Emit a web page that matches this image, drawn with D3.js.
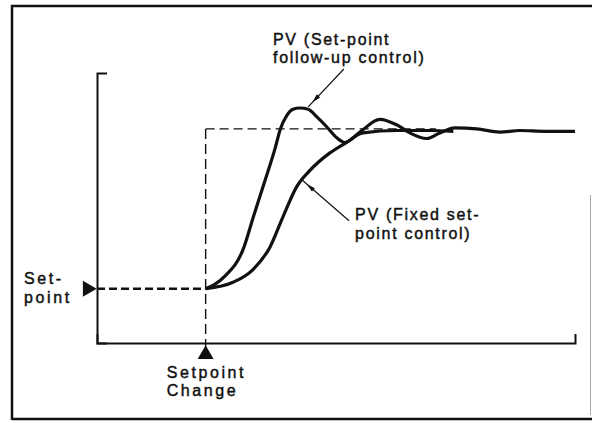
<!DOCTYPE html>
<html lang="en">
<head>
<meta charset="utf-8">
<title>Setpoint change response</title>
<style>
  body { margin: 0; background: #fff; }
  svg { display: block; }
  text { font-family: "Liberation Sans", Arial, sans-serif; font-size: 16px; fill: #111; stroke: #111; stroke-width: 0.45px; }
  .lbl { letter-spacing: 2.6px; }
  .note { letter-spacing: 1.7px; }
</style>
</head>
<body>
<svg width="592" height="423"></svg>
<script src="https://cdn.jsdelivr.net/npm/d3@7"></script>
<script>
// time runs 0..110, setpoint steps from 0 to 1 at t = 25
var changeT = 25,
    endT = 110,
    oldSP = 0,
    newSP = 1,
    spDashEnd = 78;

// PV, set-point follow-up control (overshoot + ringing)
var followT = [25, 27, 29.5, 33.6, 36.1, 38.7, 41.0, 42.2, 43.7, 45.1, 46.7, 48.6, 50.6, 52.9, 55.2, 57.1, 60.5, 65.1, 69.0, 72.0, 75.9, 78.9, 82.4, 87.4, 92.7, 97.3, 103, 110];
var followV = [0, 0.025, 0.08, 0.244, 0.46, 0.68, 0.88, 1.0, 1.085, 1.123, 1.131, 1.123, 1.075, 1.012, 0.944, 0.915, 0.98, 1.06, 1.025, 0.975, 0.94, 0.975, 1.006, 1.0, 0.98, 0.99, 0.985, 0.985];

// PV, fixed set-point control (slow, no overshoot)
var fixedT = [25, 31.3, 35.9, 39.8, 42.8, 46.0, 49.0, 53.6, 57.1, 61.2, 69.0, 76.6, 82];
var fixedV = [0, 0.04, 0.12, 0.26, 0.45, 0.64, 0.74, 0.85, 0.91, 0.975, 0.99, 0.99, 0.985];

var followText = ["PV (Set-point", "follow-up control)"];
var fixedText = ["PV (Fixed set-", "point control)"];
var spText = ["Set-", "point"];
var changeText = ["Setpoint", "Change"];

var svg = d3.select("svg");

var x = d3.scaleLinear().domain([0, endT]).range([97, 575]);
var y = d3.scaleLinear().domain([-0.34, 1.35]).range([343, 73]);

// outer frame
svg.append("path")
    .attr("d", "M12,420V6H592M12,419H592")
    .attr("fill", "none")
    .attr("stroke", "#111")
    .attr("stroke-width", 2.5);
svg.append("path")
    .attr("d", "M590.5,195V415")
    .attr("stroke", "#aaa")
    .attr("stroke-width", 1);

// axes: bare lines with a small outer tick at the far ends
svg.append("g")
    .attr("transform", "translate(" + x(0) + ",0)")
    .call(d3.axisRight(y).tickValues([]).tickSizeOuter(10));
svg.append("g")
    .attr("transform", "translate(0," + y(-0.34) + ")")
    .call(d3.axisTop(x).tickValues([]).tickSizeOuter(9));
svg.selectAll(".domain").attr("stroke", "#111").attr("stroke-width", 2);

// setpoint lines
svg.append("line")
    .attr("x1", x(0)).attr("x2", x(changeT))
    .attr("y1", y(oldSP)).attr("y2", y(oldSP))
    .attr("stroke", "#111").attr("stroke-width", 2.6)
    .attr("stroke-dasharray", "8,4");
svg.append("line")
    .attr("x1", x(changeT)).attr("x2", x(changeT))
    .attr("y1", y(newSP)).attr("y2", y(-0.34) + 10)
    .attr("stroke", "#111").attr("stroke-width", 1.4)
    .attr("stroke-dasharray", "10,5");
svg.append("line")
    .attr("x1", x(changeT)).attr("x2", x(spDashEnd))
    .attr("y1", y(newSP)).attr("y2", y(newSP))
    .attr("stroke", "#111").attr("stroke-width", 1.4)
    .attr("stroke-dasharray", "9,5");

// PV curves
var line = d3.line()
    .x(function(d) { return x(d[0]); })
    .y(function(d) { return y(d[1]); })
    .curve(d3.curveMonotoneX);

var follow = d3.zip(followT, followV),
    fixed = d3.zip(fixedT, fixedV);

[fixed, follow].forEach(function(s) {
  svg.append("path")
      .attr("d", line(s))
      .attr("fill", "none")
      .attr("stroke", "#111")
      .attr("stroke-width", 3.2)
      .attr("stroke-linejoin", "round");
});

// triangle markers
var tri = d3.symbol().type(d3.symbolTriangle).size(110);
svg.append("path")
    .attr("d", tri())
    .attr("transform", "translate(" + (x(0) - 9.5) + "," + y(oldSP) + ") rotate(90)")
    .attr("fill", "#111");
svg.append("path")
    .attr("d", tri())
    .attr("transform", "translate(" + x(changeT) + "," + (y(-0.34) + 11.5) + ")")
    .attr("fill", "#111");

// leaders
function valueAt(t, ts, vs) {
  return d3.scaleLinear().domain(ts).range(vs)(t);
}

function leader(fromT, fromV, tipT, tipV) {
  var x0 = x(fromT), y0 = y(fromV), x1 = x(tipT), y1 = y(tipV);
  var dx = x0 - x1, dy = y0 - y1, len = Math.sqrt(dx * dx + dy * dy);
  var ux = dx / len, uy = dy / len;
  svg.append("line")
      .attr("x1", x0).attr("y1", y0).attr("x2", x1).attr("y2", y1)
      .attr("stroke", "#111").attr("stroke-width", 1.2);
  var px = x1 + ux * 6, py = y1 + uy * 6,
      bx = x1 + ux * 15, by = y1 + uy * 15;
  svg.append("path")
      .attr("d", "M" + px + "," + py +
                 "L" + (bx - uy * 2.3) + "," + (by + ux * 2.3) +
                 "L" + (bx + uy * 2.3) + "," + (by - ux * 2.3) + "Z")
      .attr("fill", "#111");
}

leader(56.8, 1.375, 48.6, valueAt(48.6, followT, followV) + 0.015);
leader(58.0, 0.425, 47.2, valueAt(47.2, fixedT, fixedV));

function label(lines, px, py, gap, cls) {
  svg.append("text")
      .attr("class", cls)
      .selectAll("tspan")
      .data(lines)
      .join("tspan")
      .attr("x", px)
      .attr("y", function(d, i) { return py + i * gap; })
      .text(function(d) { return d; });
}

label(followText, x(40.5), y(1.525), 18, "note");
label(fixedText, x(59.4), y(0.431), 19, "note");
label(spText, x(0) - 73, y(oldSP) - 5, 19, "lbl");
label(changeText, x(changeT) - 39, y(-0.34) + 35, 18, "lbl");
</script>
</body>
</html>
